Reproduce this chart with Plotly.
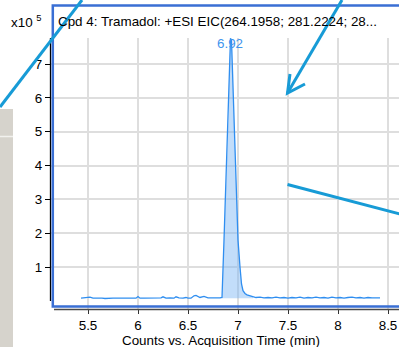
import plotly.graph_objects as go

# ---- data ----
base_left_t = [5.43, 5.46, 5.49, 5.52, 5.55, 5.58, 5.61, 5.64, 5.67, 5.70, 5.75, 5.80, 5.85, 5.90,
               5.95, 5.98, 6.00, 6.02, 6.06, 6.10, 6.15, 6.20, 6.23, 6.25, 6.28, 6.32, 6.36,
               6.38, 6.41, 6.45, 6.48, 6.50, 6.53, 6.56, 6.58, 6.62, 6.66, 6.70, 6.74, 6.78, 6.82]
base_left_v = [0.08, 0.09, 0.08, 0.11, 0.08, 0.08, 0.10, 0.08, 0.07, 0.08, 0.08, 0.08, 0.08, 0.08,
               0.08, 0.08, 0.13, 0.08, 0.08, 0.08, 0.08, 0.08, 0.09, 0.12, 0.08, 0.09, 0.08,
               0.12, 0.09, 0.08, 0.10, 0.08, 0.08, 0.15, 0.16, 0.10, 0.13, 0.09, 0.10, 0.09, 0.09]
peak_t = [6.84, 6.86, 6.875, 6.89, 6.905, 6.915, 6.925, 6.935, 6.945, 6.955, 6.967, 6.98,
          7.00, 7.02, 7.035, 7.05, 7.07, 7.09, 7.12, 7.15]
peak_v = [0.10, 1.8, 3.2, 4.4, 5.4, 7.0, 7.76, 7.70, 6.8, 5.8, 4.8, 3.0,
          1.8, 1.0, 0.5, 0.3, 0.22, 0.18, 0.15, 0.12]
base_right_t = [7.18, 7.22, 7.26, 7.30, 7.34, 7.38, 7.42, 7.46, 7.50, 7.54, 7.58, 7.62, 7.66,
                7.70, 7.74, 7.78, 7.82, 7.86, 7.90, 7.94, 7.98, 8.02, 8.06, 8.10, 8.14,
                8.18, 8.22, 8.26, 8.30, 8.34, 8.38, 8.42]
base_right_v = [0.10, 0.11, 0.09, 0.10, 0.09, 0.11, 0.09, 0.10, 0.08, 0.10, 0.09, 0.11, 0.08,
                0.10, 0.09, 0.11, 0.09, 0.10, 0.08, 0.11, 0.09, 0.10, 0.08, 0.10, 0.11,
                0.09, 0.10, 0.08, 0.10, 0.09, 0.10, 0.09]
peak_base = 0.08
peak_label = "6.92"
peak_label_t = 6.92
x_ticks = [5.5, 6, 6.5, 7, 7.5, 8, 8.5]
x_tick_text = ["5.5", "6", "6.5", "7", "7.5", "8", "8.5"]
y_ticks = [1, 2, 3, 4, 5, 6, 7]
title_text = "Cpd 4: Tramadol: +ESI EIC(264.1958; 281.2224; 28..."
x_title = "Counts vs. Acquisition Time (min)"

# ---- layout geometry helpers (pixel -> paper) ----
W, H = 399, 347
ML, MR, MT, MB = 51, 0, 38, 38
PW, PH = W - ML - MR, H - MT - MB
def px(x): return (x - ML) / PW
def py(y): return (H - MB - y) / PH

Y_TOP = 7.77
line_col = "#2f8ef0"
all_t = base_left_t + peak_t + base_right_t
all_v = base_left_v + peak_v + base_right_v

fig = go.Figure()
fig.add_trace(go.Scatter(
    x=peak_t + [peak_t[-1], peak_t[0]],
    y=peak_v + [peak_base, peak_base],
    fill="toself", fillcolor="rgba(120,180,245,0.45)",
    line=dict(width=0), mode="lines", hoverinfo="skip"))
fig.add_trace(go.Scatter(x=all_t, y=all_v, mode="lines",
                         line=dict(color=line_col, width=1.3)))

ann_blue = "#179bd6"
shapes = [
    dict(type="rect", xref="paper", yref="paper", x0=px(0), x1=px(13), y0=py(347), y1=py(109),
         fillcolor="#d6d3cc", line=dict(width=0), layer="above"),
    dict(type="line", xref="paper", yref="paper", x0=px(0), x1=px(13), y0=py(136.5), y1=py(136.5),
         line=dict(color="#f2f1ee", width=1.5)),
    dict(type="line", xref="paper", yref="y", x0=px(50.5), x1=px(50.5), y0=0, y1=Y_TOP,
         line=dict(color="black", width=1.3)),
    dict(type="line", xref="paper", yref="paper", x0=px(54), x1=px(400), y0=py(309.5), y1=py(309.5),
         line=dict(color="#4a4a4a", width=1.5)),
    dict(type="rect", xref="paper", yref="paper", x0=px(52.8), x1=px(410), y0=py(306.5), y1=py(5.5),
         line=dict(color="#3a6fd4", width=2.5), fillcolor="rgba(0,0,0,0)"),
    dict(type="line", xref="paper", yref="paper", x0=px(82), y0=py(0), x1=px(0), y1=py(107),
         line=dict(color=ann_blue, width=3)),
    dict(type="line", xref="paper", yref="paper", x0=px(342), y0=py(0), x1=px(287.5), y1=py(93),
         line=dict(color=ann_blue, width=3)),
    dict(type="path", xref="paper", yref="paper",
         path=f"M {px(290)} {py(74)} L {px(287.5)} {py(93)} L {px(305)} {py(84)}",
         line=dict(color=ann_blue, width=3)),
    dict(type="line", xref="paper", yref="paper", x0=px(287.5), y0=py(184.5), x1=px(400), y1=py(214),
         line=dict(color=ann_blue, width=3)),
]

FS = 13.4
font = dict(family="Liberation Sans, Arial, sans-serif", size=FS, color="black")
annotations = [
    dict(text=title_text, xref="paper", yref="paper", x=px(56), y=py(22), xanchor="left",
         yanchor="middle", showarrow=False, font=font),
    dict(text="x10 <sup>5</sup>", xref="paper", yref="paper", x=px(9), y=py(22), xanchor="left",
         yanchor="middle", showarrow=False, font=font),
    dict(text=x_title, xref="paper", yref="paper", x=px(221), y=py(340), xanchor="center",
         yanchor="middle", showarrow=False, font=font),
    dict(text=peak_label, x=peak_label_t, y=max(peak_v), xref="x", yref="y", xanchor="center",
         yanchor="top", yshift=4, showarrow=False,
         font=dict(family="Liberation Sans, Arial, sans-serif", size=FS, color="#3f95ee")),
]

fig.update_layout(
    width=W, height=H, margin=dict(l=ML, r=MR, t=MT, b=MB),
    paper_bgcolor="white", plot_bgcolor="white", showlegend=False,
    font=font, shapes=shapes, annotations=annotations,
    xaxis=dict(range=[5.13, 8.61], tickvals=x_ticks, ticktext=x_tick_text, ticks="outside",
               ticklen=4, tickcolor="#333", showgrid=True, gridcolor="#dedede", gridwidth=1.5,
               zeroline=False, showline=False, tickfont=font),
    yaxis=dict(range=[-0.24, Y_TOP], tickvals=y_ticks, ticks="outside", ticklen=5,
               tickcolor="black", showgrid=True, gridcolor="#dedede", gridwidth=1.5,
               zeroline=False, showline=False, tickfont=font),
)
fig.write_html("out.html")
